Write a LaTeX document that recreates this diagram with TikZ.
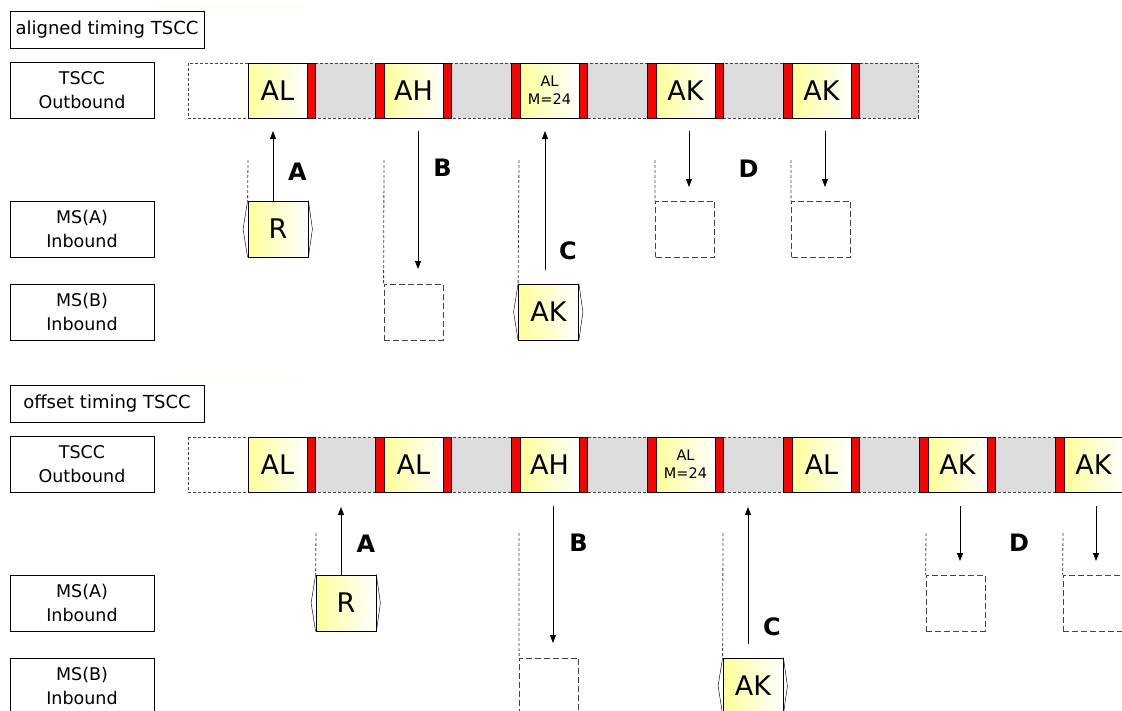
\documentclass[tikz,border=0pt]{standalone}
\usepackage{fontspec}
\setmainfont{DejaVu Sans}
\usetikzlibrary{arrows.meta}
\definecolor{slotgray}{HTML}{DCDCDC}
\definecolor{dashgray}{HTML}{444444}
\definecolor{faint}{HTML}{FFFFE0}
\tikzset{
  lbl/.style={draw=black, line width=0.8pt, fill=white, minimum width=144pt, minimum height=56pt, inner sep=0pt, align=center, font=\fontsize{17.5}{24}\selectfont},
  ttl/.style={draw=black, line width=0.8pt, fill=white, minimum width=194pt, minimum height=37pt, inner sep=0pt, font=\fontsize{18}{20}\selectfont},
  slotbox/.style={draw=black, line width=0.8pt, left color=yellow!40, right color=white, minimum width=59pt, minimum height=55pt, inner sep=0pt, align=center, font=\fontsize{27}{27}\selectfont},
  smalltxt/.style={font=\fontsize{14.5}{18}\selectfont},
  redbar/.style={draw=black, line width=0.6pt, fill=red, minimum width=8.5pt, minimum height=55pt, inner sep=0pt},
  msgbox/.style={slotbox, minimum width=60pt, minimum height=56pt},
  emptybox/.style={draw=dashgray, dash pattern=on 6pt off 3pt, line width=0.8pt, minimum width=59pt, minimum height=56pt, inner sep=0pt},
  guide/.style={draw=dashgray, dash pattern=on 3pt off 2pt, line width=0.8pt},
  strip/.style={draw=dashgray, dash pattern=on 3pt off 2pt, line width=0.8pt},
  arr/.style={-{Triangle[length=8pt,width=6pt]}, line width=0.8pt},
  letter/.style={font=\bfseries\fontsize{24}{24}\selectfont},
  bracket/.style={draw=black, line width=0.45pt}
}
\begin{document}
\begin{tikzpicture}[x=1pt, y=-1pt]
\useasboundingbox (0,0) rectangle (1122,710);
\fill[white] (0,0) rectangle (1122,710);
% faint lines
\draw[faint, line width=0.6pt] (155,6) -- (307,6);
\draw[faint, line width=0.6pt] (155,381) -- (307,381);

% ---------------- aligned timing ----------------
\node[ttl] (t1) at (107,30) {aligned timing TSCC};
\node[lbl] (o1) at (82,90.5) {TSCC\\Outbound};
\node[lbl] (a1) at (82,229) {MS(A)\\Inbound};
\node[lbl] (b1) at (82,312) {MS(B)\\Inbound};

% strip
\fill[slotgray] (316,63) rectangle (918,118);
\draw[strip] (188,63) rectangle (918,118);
\node[slotbox] (u0) at (277.5,90.5) {AL};
\node[slotbox] (u1) at (413.5,90.5) {AH};
\node[slotbox, smalltxt] (u2) at (549.5,90.5) {AL\\M=24};
\node[slotbox] (u3) at (685.5,90.5) {AK};
\node[slotbox] (u4) at (821.5,90.5) {AK};
\foreach \k in {0,...,4} {
  \node[redbar] (ur\k) at (248+136*\k+63.25,90.5) {};
}
\foreach \k in {1,...,4} {
  \node[redbar] (ul\k) at (248+136*\k-4.25,90.5) {};
}

% A
\node[msgbox] (rA1) at (278,229) {};
\draw[bracket] (rA1.north west) -- ([xshift=-4.5pt]rA1.west) -- (rA1.south west);
\draw[bracket] (rA1.north east) -- ([xshift=4pt]rA1.east) -- (rA1.south east);
\node[msgbox] at (rA1) {R};
\coordinate (gA1) at (248,160);
\draw[guide] (gA1) -- (rA1.north west);
\coordinate (tA1) at (273,131);
\draw[arr] (rA1.north -| tA1) -- (tA1);
\node[letter] (lA1) at (297.5,172) {A};

% B
\node[emptybox] (eB1) at (413.5,312) {};
\coordinate (gB1) at (384,160);
\draw[guide] (gB1) -- (eB1.north west);
\coordinate (sB1) at (418,131);
\coordinate (tB1) at (418,269);
\draw[arr] (sB1) -- (tB1);
\node[letter] (lB1) at (442.5,168) {B};

% C
\node[msgbox] (cA1) at (548.5,312) {};
\draw[bracket] (cA1.north west) -- ([xshift=-4.5pt]cA1.west) -- (cA1.south west);
\draw[bracket] (cA1.north east) -- ([xshift=4pt]cA1.east) -- (cA1.south east);
\node[msgbox] at (cA1) {AK};
\coordinate (gC1) at (519,160);
\draw[guide] (gC1) -- (cA1.north west);
\coordinate (sC1) at (545,270);
\coordinate (tC1) at (545,131);
\draw[arr] (sC1) -- (tC1);
\node[letter] (lC1) at (568,251) {C};

% D
\node[emptybox] (eD1) at (685,229) {};
\coordinate (gD1) at (655,160);
\draw[guide] (gD1) -- (eD1.north west);
\coordinate (sD1) at (689,131);
\coordinate (tD1) at (689,187);
\draw[arr] (sD1) -- (tD1);
\node[emptybox] (eD2) at (821,229) {};
\coordinate (gD2) at (791,160);
\draw[guide] (gD2) -- (eD2.north west);
\coordinate (sD2) at (825,131);
\coordinate (tD2) at (825,187);
\draw[arr] (sD2) -- (tD2);
\node[letter] (lD1) at (748.5,169) {D};

% ---------------- offset timing ----------------
\node[ttl] (t2) at (107,404) {offset timing TSCC};
\node[lbl] (o2) at (82,464.5) {TSCC\\Outbound};
\node[lbl] (a2) at (82,603) {MS(A)\\Inbound};
\node[lbl] (b2) at (82,686) {MS(B)\\Inbound};

\fill[slotgray] (316,437) rectangle (1130,492);
\draw[strip] (188,437) -- (1130,437);
\draw[strip] (188,492) -- (1130,492);
\draw[strip] (188,437) -- (188,492);
\node[slotbox] (v0) at (277.5,464.5) {AL};
\node[slotbox] (v1) at (413.5,464.5) {AL};
\node[slotbox] (v2) at (549.5,464.5) {AH};
\node[slotbox, smalltxt] (v3) at (685.5,464.5) {AL\\M=24};
\node[slotbox] (v4) at (821.5,464.5) {AL};
\node[slotbox] (v5) at (957.5,464.5) {AK};
\node[slotbox] (v6) at (1093.5,464.5) {AK};
\foreach \k in {0,...,5} {
  \node[redbar] (vr\k) at (248+136*\k+63.25,464.5) {};
}
\foreach \k in {1,...,6} {
  \node[redbar] (vl\k) at (248+136*\k-4.25,464.5) {};
}

% A
\node[msgbox] (rA2) at (346,603) {};
\draw[bracket] (rA2.north west) -- ([xshift=-4.5pt]rA2.west) -- (rA2.south west);
\draw[bracket] (rA2.north east) -- ([xshift=4pt]rA2.east) -- (rA2.south east);
\node[msgbox] at (rA2) {R};
\coordinate (gA2) at (316,533);
\draw[guide] (gA2) -- (rA2.north west);
\coordinate (tA2) at (341,507);
\draw[arr] (rA2.north -| tA2) -- (tA2);
\node[letter] (lA2) at (366,544) {A};

% B
\node[emptybox] (eB2) at (549,686) {};
\coordinate (gB2) at (519,533);
\draw[guide] (gB2) -- (eB2.north west);
\coordinate (sB2) at (553,506);
\coordinate (tB2) at (553,643);
\draw[arr] (sB2) -- (tB2);
\node[letter] (lB2) at (578.5,542.5) {B};

% C
\node[msgbox] (cA2) at (753,686) {};
\draw[bracket] (cA2.north west) -- ([xshift=-4.5pt]cA2.west) -- (cA2.south west);
\draw[bracket] (cA2.north east) -- ([xshift=4pt]cA2.east) -- (cA2.south east);
\node[msgbox] at (cA2) {AK};
\coordinate (gC2) at (723,533);
\draw[guide] (gC2) -- (cA2.north west);
\coordinate (sC2) at (748,644);
\coordinate (tC2) at (748,507);
\draw[arr] (sC2) -- (tC2);
\node[letter] (lC2) at (772,627) {C};

% D
\node[emptybox] (eD3) at (955.5,603) {};
\coordinate (gD3) at (926,533);
\draw[guide] (gD3) -- (eD3.north west);
\coordinate (sD3) at (960,506);
\coordinate (tD3) at (960,561);
\draw[arr] (sD3) -- (tD3);
\node[emptybox] (eD4) at (1092.5,603) {};
\coordinate (gD4) at (1063,533);
\draw[guide] (gD4) -- (eD4.north west);
\coordinate (sD4) at (1096,506);
\coordinate (tD4) at (1096,561);
\draw[arr] (sD4) -- (tD4);
\node[letter] (lD2) at (1019,543) {D};
\end{tikzpicture}
\end{document}
